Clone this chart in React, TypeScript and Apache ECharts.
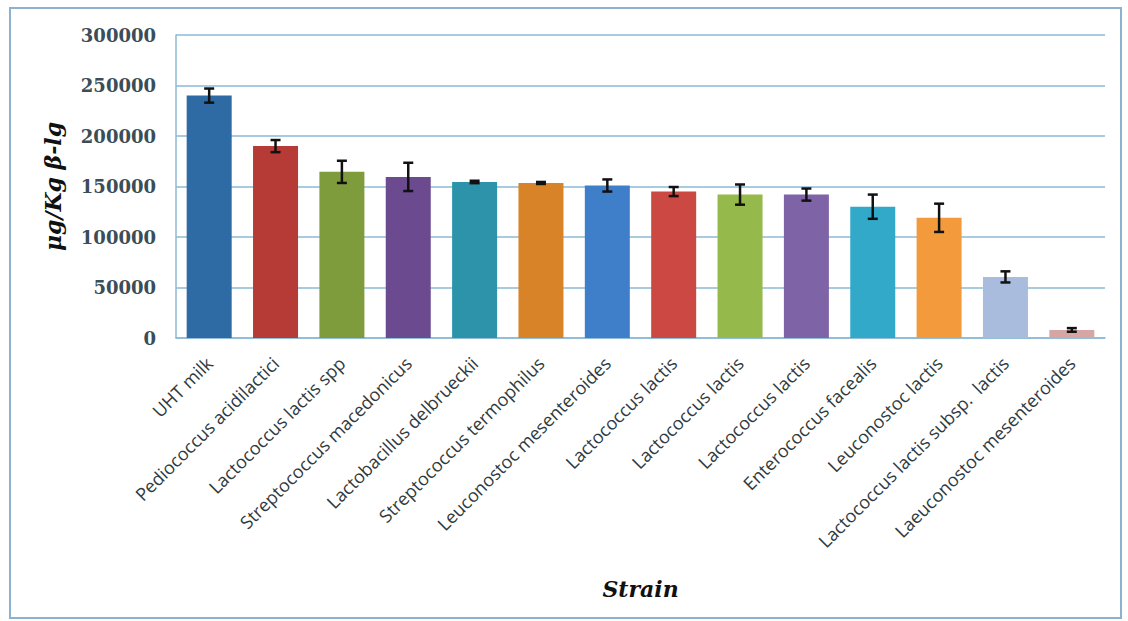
import React, { useEffect, useRef } from "react";
import * as echarts from "echarts";

const categories = [
  "UHT milk",
  "Pediococcus acidilactici",
  "Lactococcus lactis spp",
  "Streptococcus macedonicus",
  "Lactobacillus delbrueckii",
  "Streptococcus termophilus",
  "Leuconostoc mesenteroides",
  "Lactococcus lactis",
  "Lactococcus lactis",
  "Lactococcus lactis",
  "Enterococcus facealis",
  "Leuconostoc lactis",
  "Lactococcus lactis subsp.  lactis",
  "Laeuconostoc mesenteroides",
];
const values = [240000, 190000, 164500, 159500, 154500, 153500, 151000, 145000, 142000, 142000, 130000, 119000, 60500, 8000];
const errors = [7000, 6000, 11000, 14000, 1200, 1000, 6000, 4500, 10000, 6000, 12000, 14000, 5500, 1800];
const colors = [
  "#2e6aa4", "#b63a35", "#7f9c3c", "#6b4a90", "#2c93ab", "#d98329", "#3f7fca",
  "#cc4843", "#95b94b", "#7e63a7", "#32a9c9", "#f39a3c", "#a9bcdd", "#d6a6a5",
];
const yTicks = [0, 50000, 100000, 150000, 200000, 250000, 300000];

export default function App() {
  const ref = useRef<HTMLDivElement>(null);
  useEffect(() => {
    const chart = echarts.init(ref.current!, null, { renderer: "svg" });
    chart.setOption({
      animation: false,
      backgroundColor: "#ffffff",
      graphic: [
        {
          type: "rect",
          shape: { x: 10, y: 8, width: 1111, height: 610 },
          style: { fill: "none", stroke: "#8db2cf", lineWidth: 2 },
          silent: true,
        },
      ],
      grid: { left: 176, right: 23, top: 35, bottom: 283, containLabel: false },
      xAxis: {
        type: "category",
        data: categories,
        axisLine: { show: true, lineStyle: { color: "#8cbad6", width: 1.5 } },
        axisTick: { show: false },
        axisLabel: {
          rotate: 45,
          interval: 0,
          margin: 22,
          fontFamily: "'Open Sans', sans-serif",
          fontSize: 18,
          color: "#2f3a40",
        },
        name: "Strain",
        nameLocation: "middle",
        nameGap: 240,
        nameTextStyle: {
          fontFamily: "'DejaVu Serif', serif",
          fontStyle: "italic",
          fontWeight: "bold",
          fontSize: 22,
          color: "#111",
        },
      },
      yAxis: {
        type: "value",
        min: 0,
        max: 300000,
        interval: 50000,
        axisLine: { show: true, lineStyle: { color: "#8cbad6", width: 1.5 } },
        axisTick: { show: false },
        splitLine: { lineStyle: { color: "#8cbad6", width: 1.5 } },
        axisLabel: {
          margin: 20,
          fontFamily: "'DejaVu Serif', serif",
          fontWeight: "bold",
          fontSize: 18,
          color: "#3b4d57",
          formatter: (v: number) => (yTicks.includes(v) ? String(v) : ""),
        },
        name: "μg/Kg β-lg",
        nameLocation: "middle",
        nameGap: 112,
        nameRotate: 90,
        nameTextStyle: {
          fontFamily: "'DejaVu Serif', serif",
          fontStyle: "italic",
          fontWeight: "bold",
          fontSize: 22,
          color: "#111",
        },
      },
      series: [
        {
          type: "bar",
          data: values.map((v, i) => ({ value: v, itemStyle: { color: colors[i] } })),
          barWidth: 45,
        },
        {
          type: "custom",
          data: values.map((v, i) => [i, v, errors[i]]),
          z: 10,
          renderItem: (params: any, api: any) => {
            const x = api.value(0);
            const v = api.value(1);
            const e = api.value(2);
            const top = api.coord([x, v + e]);
            const bot = api.coord([x, v - e]);
            const cw = 5;
            const style = { stroke: "#111", lineWidth: 2.5 };
            return {
              type: "group",
              children: [
                { type: "line", shape: { x1: top[0], y1: top[1], x2: bot[0], y2: bot[1] }, style },
                { type: "line", shape: { x1: top[0] - cw, y1: top[1], x2: top[0] + cw, y2: top[1] }, style },
                { type: "line", shape: { x1: bot[0] - cw, y1: bot[1], x2: bot[0] + cw, y2: bot[1] }, style },
              ],
            };
          },
        },
      ],
    });
    return () => chart.dispose();
  }, []);
  return (
    <div
      ref={ref}
      style={{ position: "fixed", left: 0, top: 0, width: 1128, height: 621 }}
    />
  );
}
